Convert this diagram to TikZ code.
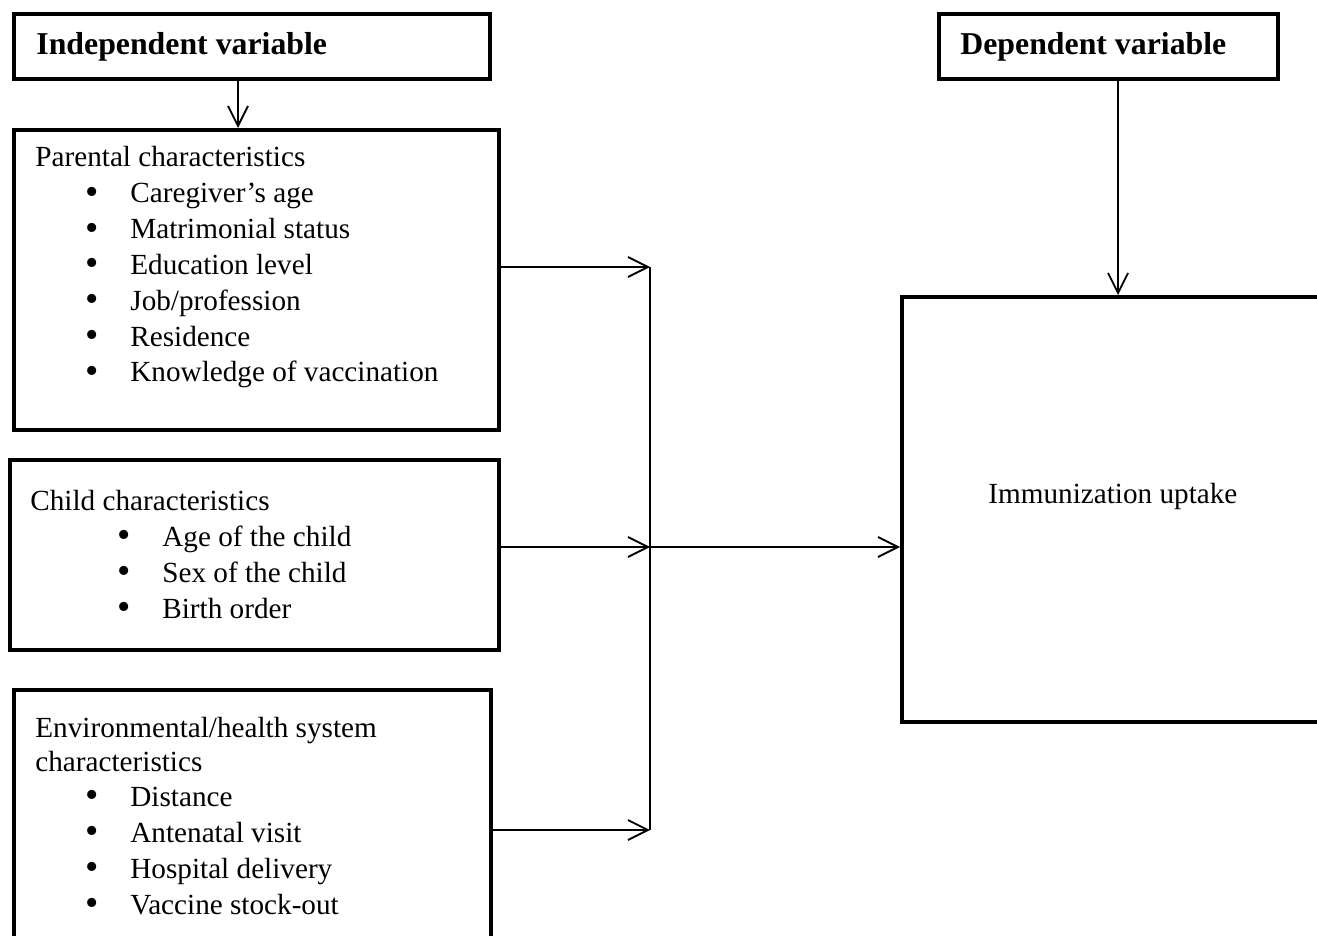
\documentclass[tikz,border=0pt]{standalone}
\usepackage{fontspec}
\setmainfont{Liberation Serif}[BoldFont={Liberation Serif Bold}]
\usetikzlibrary{arrows.meta}
\newcommand{\blt}{\makebox[22.5pt][l]{\raisebox{-0.8pt}{\fontsize{19}{19}\selectfont\textbullet}}}
\tikzset{frame/.style={draw,line width=2pt,inner sep=0pt,anchor=north west},
    arr/.style={line width=0.9pt,-{Straight Barb[length=10pt,width=10pt,line width=0.9pt]}},
    ln/.style={line width=0.9pt},
    head/.style={font=\fontsize{15.9}{18}\selectfont\bfseries,anchor=base west,inner sep=0pt},
    txt/.style={font=\fontsize{14.6}{17.9}\selectfont,anchor=base west,inner sep=0pt},
    x=0.5pt,y=-0.5pt}

\begin{document}
\begin{tikzpicture}
\useasboundingbox (0,0) rectangle (1317,936);
\clip (0,0) rectangle (1317,936);
% boxes
\node[frame,minimum width=238pt,minimum height=32.5pt] (ind) at (12,12) {};
\node[frame,minimum width=242.5pt,minimum height=150pt] (par) at (12,128) {};
\node[frame,minimum width=244.5pt,minimum height=95pt] (chd) at (8,458) {};
\node[frame,minimum width=238.5pt,minimum height=131pt] (env) at (12,688) {};
\node[frame,minimum width=169.5pt,minimum height=32.5pt] (dep) at (937,12) {};
\node[frame,minimum width=215pt,minimum height=212.5pt] (imm) at (900,295) {};
% texts
\node[head] (indt) at (36,55) {Independent variable};
\node[head] (dept) at (960,55) {Dependent variable};
\node[txt] (part) at (35,167) {Parental characteristics};
\foreach \t [count=\i] in {Caregiver’s age,Matrimonial status,Education level,
    Job/profession,Residence,Knowledge of vaccination}
    \node[txt] (p\i) at (85,{167+35.8*\i}) {\blt\t};
\node[txt] (chdt) at (30,510) {Child characteristics};
\foreach \t [count=\i] in {Age of the child,Sex of the child,Birth order}
    \node[txt] (c\i) at (117,{510+36*\i}) {\blt\t};
\node[txt] (envt) at (35,737) {Environmental/health system};
\node[txt] (envu) at (35,771) {characteristics};
\foreach \t [count=\i] in {Distance,Antenatal visit,Hospital delivery,Vaccine stock-out}
    \node[txt] (e\i) at (85,{770+36*\i}) {\blt\t};
\node[txt] (immt) at (988,503) {Immunization uptake};
% connectors
\coordinate (a1) at (238,0);
\coordinate (a2) at (1118,0);
\coordinate (jp) at (650,267);
\coordinate (jc) at (650,547);
\coordinate (je) at (650,830);
\draw[arr] (a1 |- ind.south) -- (a1 |- par.north);
\draw[arr] (a2 |- dep.south) -- (a2 |- imm.north);
\draw[arr] (par.east |- jp) -- (jp);
\draw[arr] (chd.east |- jc) -- (jc);
\draw[arr] (env.east |- je) -- (je);
\draw[ln] (jp) -- (je);
\draw[arr] (jc) -- (imm.west |- jc);
\end{tikzpicture}
\end{document}
